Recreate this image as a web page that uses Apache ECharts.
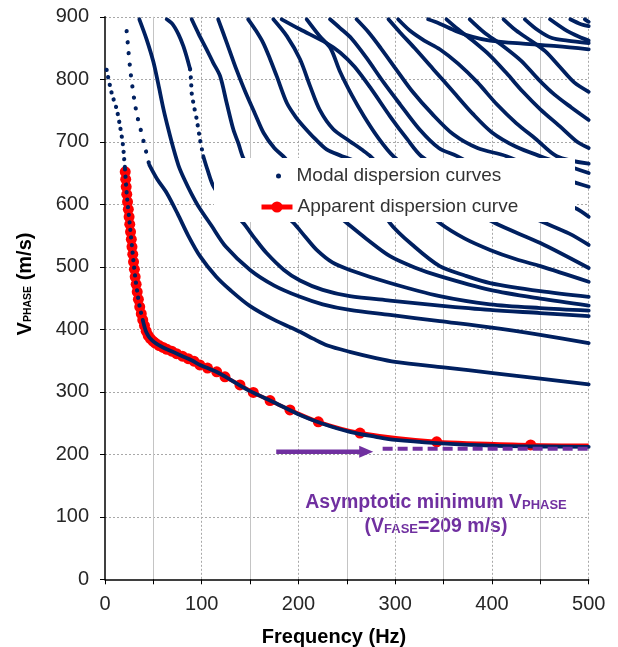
<!DOCTYPE html>
<html>
<head>
<meta charset="utf-8">
<script src="https://cdn.jsdelivr.net/npm/echarts@6/dist/echarts.min.js"></script>
<style>
  html, body { margin: 0; padding: 0; background: #fff; }
  #chart { width: 618px; height: 647px; }
</style>
</head>
<body>
<div id="chart"></div>
<script>
// ---- Data: frequency (Hz), phase velocity (m/s) ----
const xTicks = [0, 100, 200, 300, 400, 500];
const yTicks = [0, 100, 200, 300, 400, 500, 600, 700, 800, 900];

// Fundamental mode: sparse (steep) head, steep part under the apparent curve, then dense tail
const mode1Top = [[1.7,815],[6.9,778],[12.1,752],[15.5,725],[18.3,698],[19.6,677],[20.7,656]];
const mode1Steep = [[20.7,656],[22.4,618],[25.8,565],[29.3,511],[31.5,480],[33.5,458],[36,435],[39,415]];
const mode1 = [[39,415],[42,398],[45,389],[48.2,383],[53,377],[60,371],[70,364],[80,357],[90,350],[98.2,343],[115,332],[130,319],[150,301],[175,283],[201.6,263],[225,249],[253,236],[280,228],[300,223],[343,218],[401,214],[450,212.5],[500,212]];

const mode2Top = [[22.4,877],[24.2,846],[26.2,814],[28.2,790],[30.5,765],[33.5,740],[36.5,722],[40,700],[45.8,663]];
const mode2 = [[45.8,663],[54,640],[63.8,618],[75,585],[86,550],[98.2,517],[115,484],[130,462],[150,437],[175,415],[201.6,396],[215,385],[230,374],[253,364],[280,354],[300,348],[350,339],[401,330],[450,321],[500,312]];

const mode3 = [[35.5,896],[43,864],[50,828],[55,793],[60.5,752],[65.5,720],[70.6,690],[76,662],[82,640],[89,618],[96.5,597],[110,566],[125,532],[150,495],[175,470],[201.6,452],[225,440],[253,431],[294.6,423],[346,413],[398,403],[450,391],[500,378]];

const mode4Top = [[63.8,896],[70,888],[76,872],[81,853],[85,833],[88,816]];
const mode4Mid = [[88,816],[89,797],[89.6,778],[92,757],[94.8,736],[98.2,704],[101.6,677]];
const mode4 = [[101.6,677],[106,655],[112,629],[125,600],[143,570],[155,545],[167,522],[185,495],[201.6,478],[225,463],[253,453],[294.6,446],[346,438],[398,431],[450,426],[500,421]];

const mode5 = [[89.6,896],[97,872],[105,848],[112,826],[119,805],[125.8,762],[132.6,720],[138,697],[143,674],[160,628],[178,595],[195,570],[207,548],[218.8,527],[235,507],[253,495],[294.6,474],[346,453],[398,440],[450,434],[500,430]];
const mode6 = [[117,896],[126,858],[136,815],[145,780],[155,745],[164,714],[175,690],[186,674],[205,635],[228,598],[250,570],[270,545],[294.6,517],[320,499],[346,485],[398,463],[450,449],[500,438]];
const mode7 = [[148,896],[156,878],[163.6,858],[170.5,833],[177.5,805],[188,762],[197,740],[205,725],[217,705],[229,688],[245,677],[258,668],[275,625],[294.6,570],[320,532],[346,501],[372,486],[398,474],[450,461],[500,452]];
const mode8 = [[174,896],[188,869],[201.6,832],[212,789],[222,751],[236,720],[253,701],[265,688],[275,676],[300,635],[325,600],[346,570],[372,545],[398,527],[425,512],[450,501],[500,476]];
const mode9 = [[182.6,896],[201.6,880],[229,858],[243,843],[258,820],[275,785],[295,740],[312,705],[327,677],[365,640],[410,600],[455,570],[480,553],[500,535]];
const mode10 = [[208.5,896],[222,869],[233,850],[243,812],[255,775],[268,740],[283,705],[298,677],[330,638],[365,604],[403,570],[450,538],[500,498]];
const mode11 = [[232.6,896],[243,882],[255,865],[270,835],[288,795],[305,760],[325,720],[345,690],[364,677],[420,630],[470,600],[486,594],[500,580]];
const mode12 = [[260,896],[272,876],[285,850],[300,818],[318,780],[338,745],[360,712],[385,690],[415,677],[460,648],[500,628]];
const mode13 = [[293,896],[305,875],[320,850],[340,815],[360,780],[380,745],[400,715],[425,692],[450,677],[500,650]];
const mode14 = [[303,896],[315,878],[330,862],[346,848],[365,825],[385,795],[405,760],[425,730],[445,705],[467,677],[500,665]];
const mode15 = [[334,896],[346,889],[363,877],[380,868],[398,862],[432,857],[467,853],[500,848]];
const mode16 = [[353,896],[365,880],[380,862],[398,838],[415,810],[432,780],[450,752],[470,725],[488,700],[500,690]];
const mode17 = [[377,896],[392,875],[410,855],[430,830],[448,800],[465,775],[482,755],[500,735]];
const mode18 = [[412,896],[425,878],[440,862],[455,845],[470,820],[485,795],[500,780]];
const mode19 = [[434,896],[448,878],[462,866],[478,862],[500,858]];
const mode20 = [[460,896],[475,880],[490,868],[500,862]];
const mode21 = [[481,896],[492,888],[500,885]];
const mode22 = [[496,896],[500,892]];

// Apparent (effective) dispersion curve picks
const apparentCurve = [[20.9,652],[21.4,640],[21.9,628],[22.5,616],[23.3,604],[24.1,592],[24.9,580],[25.6,568],[26.4,556],[27.2,544],[27.9,532],[28.7,520],[29.5,508],[30.4,496],[31.2,484],[32.2,472],[33.3,460],[34.5,448],[35.9,436],[37.5,425],[39,415],[40.8,406],[42.6,397],[44.7,390],[47,385],[49.5,381],[52,378],[56,374],[60,371],[64,368],[69,365],[74,361],[80,357],[86,353],[92,349],[98,343],[106,338],[115.5,332],[124,324],[139.5,311],[153.3,299],[170.6,286],[191.2,271],[220.5,252],[263.6,234],[342.9,220],[440,215]];
const apparentEnd = [500, 214];

// Asymptotic minimum phase velocity and the arrow pointing at it
const asymptoteV = 209;
const asymptoteF = [287, 500];
const arrowV = 204;
const arrowF = [177, 270];

// ---- Styling ----
const NAVY = '#002060';
const RED = '#ff0000';
const PURPLE = '#7030A0';
const FONT = 'Liberation Sans, Arial, sans-serif';
const MODAL = 'Modal dispersion curves';
const APPARENT = 'Apparent dispersion curve';

function modal(points, dotGap) {
  return {
    type: 'line',
    name: MODAL,
    data: points,
    showSymbol: false,
    symbol: 'circle',
    smooth: 0.3,
    color: NAVY,
    itemStyle: { color: NAVY },
    lineStyle: dotGap
      ? { color: NAVY, width: 4.2, type: [0.1, dotGap], cap: 'round' }
      : { color: NAVY, width: 3.8, cap: 'round', join: 'round' },
    z: 3,
    silent: true,
    emphasis: { disabled: true }
  };
}

const modalSeries = [
  modal(mode1Top, 7.5), modal(mode1Steep, 7.5), modal(mode1),
  modal(mode2Top, 11), modal(mode2),
  modal(mode3),
  modal(mode4Top), modal(mode4Mid, 8), modal(mode4),
  modal(mode5), modal(mode6), modal(mode7), modal(mode8), modal(mode9),
  modal(mode10), modal(mode11), modal(mode12), modal(mode13), modal(mode14),
  modal(mode15), modal(mode16), modal(mode17), modal(mode18), modal(mode19),
  modal(mode20), modal(mode21), modal(mode22)
];

const apparentSeries = {
  type: 'line',
  name: APPARENT,
  data: apparentCurve.concat([{ value: apparentEnd, symbol: 'none' }]),
  symbol: 'circle',
  symbolSize: 11,
  showAllSymbol: true,
  smooth: 0.3,
  color: RED,
  itemStyle: { color: RED },
  lineStyle: { color: RED, width: 4 },
  z: 2,
  silent: true
};

const asymptoteSeries = {
  type: 'line',
  name: 'asymptote',
  data: asymptoteF.map(f => [f, asymptoteV]),
  showSymbol: false,
  lineStyle: { color: PURPLE, width: 4, type: [10, 5] },
  z: 4,
  silent: true
};

const arrowSeries = {
  type: 'line',
  name: 'arrow',
  data: [
    { value: [arrowF[0], arrowV], symbol: 'none' },
    { value: [arrowF[1], arrowV], symbol: 'triangle', symbolRotate: -90, symbolSize: [12, 14] }
  ],
  showSymbol: true,
  color: PURPLE,
  itemStyle: { color: PURPLE },
  lineStyle: { color: PURPLE, width: 4.5 },
  z: 4,
  silent: true
};

const chart = echarts.init(document.getElementById('chart'), null, { renderer: 'canvas' });

chart.setOption({
  animation: false,
  backgroundColor: '#fff',
  grid: { left: 105, right: 29.3, top: 16.8, bottom: 67.7, outerBoundsMode: 'none', containLabel: false },
  xAxis: [
    {
      type: 'value', min: xTicks[0], max: xTicks[xTicks.length - 1], interval: 50,
      axisLine: { show: true, onZero: false, lineStyle: { color: '#000', width: 1.5 } },
      axisTick: { show: true, inside: false, length: 5, lineStyle: { color: '#000', width: 1 } },
      axisLabel: {
        fontSize: 20, fontFamily: FONT, color: '#262626', margin: 15,
        formatter: v => (xTicks.indexOf(v) >= 0 ? String(v) : '')
      },
      splitLine: { show: true, lineStyle: { color: ['transparent', '#c4c4c4'], width: 1 } }
    },
    {
      type: 'value', min: xTicks[0], max: xTicks[xTicks.length - 1], interval: 100,
      position: 'top',
      axisLine: { show: false }, axisTick: { show: false }, axisLabel: { show: false },
      splitLine: { show: true, showMinLine: false, lineStyle: { color: '#a8a8a8', type: [2, 2], width: 1 } }
    }
  ],
  yAxis: {
    type: 'value', min: yTicks[0], max: yTicks[yTicks.length - 1], interval: 100,
    axisLine: { show: true, onZero: false, lineStyle: { color: '#000', width: 1.5 } },
    axisTick: { show: true, inside: false, length: 5, lineStyle: { color: '#000', width: 1 } },
    axisLabel: { fontSize: 20, fontFamily: FONT, color: '#262626', margin: 16 },
    splitLine: { show: true, showMinLine: false, lineStyle: { color: '#a8a8a8', type: [2, 2], width: 1 } }
  },
  legend: [
    {
      left: 276, top: 165, padding: 0, orient: 'vertical',
      itemWidth: 26, itemHeight: 5, selectedMode: false,
      data: [{ name: MODAL, icon: 'circle' }],
      textStyle: { fontSize: 19, fontFamily: FONT, color: '#333', lineHeight: 22 },
      z: 20
    },
    {
      left: 259, top: 196, padding: 0, orient: 'vertical',
      itemWidth: 31, itemHeight: 14, selectedMode: false,
      data: [APPARENT],
      lineStyle: { width: 5 },
      textStyle: { fontSize: 19, fontFamily: FONT, color: '#333', lineHeight: 22 },
      z: 20
    }
  ],
  graphic: [
    // white legend panel laid over the curves
    { type: 'rect', left: 214, top: 158, shape: { width: 361, height: 64 }, style: { fill: '#fff' }, z: 10, silent: true },
    {
      type: 'text', x: 25, y: 284, rotation: Math.PI / 2, silent: true,
      style: {
        text: '{v|V}{s|PHASE}{v| (m/s)}',
        align: 'center', verticalAlign: 'middle',
        rich: {
          v: { fontSize: 20, fontWeight: 'bold', fontFamily: FONT, fill: '#000', lineHeight: 22 },
          s: { fontSize: 10.5, fontWeight: 'bold', fontFamily: FONT, fill: '#000', lineHeight: 22, verticalAlign: 'bottom', padding: [0, 0, 2, 0] }
        }
      }
    },
    {
      type: 'text', x: 334, y: 637, silent: true,
      style: {
        text: 'Frequency (Hz)', align: 'center', verticalAlign: 'middle',
        fontSize: 20, fontWeight: 'bold', fontFamily: FONT, fill: '#000'
      }
    },
    {
      type: 'text', x: 436, y: 515, silent: true,
      style: {
        text: '{a|Asymptotic minimum V}{s|PHASE}\n{a|(V}{s|FASE}{a|=' + asymptoteV + ' m/s)}',
        align: 'center', verticalAlign: 'middle',
        rich: {
          a: { fontSize: 19.5, fontWeight: 'bold', fontFamily: FONT, fill: PURPLE, lineHeight: 24 },
          s: { fontSize: 13, fontWeight: 'bold', fontFamily: FONT, fill: PURPLE, lineHeight: 24, verticalAlign: 'bottom', padding: [0, 0, 3, 0] }
        }
      }
    }
  ],
  series: [apparentSeries].concat(modalSeries, [asymptoteSeries, arrowSeries])
});
</script>
</body>
</html>
